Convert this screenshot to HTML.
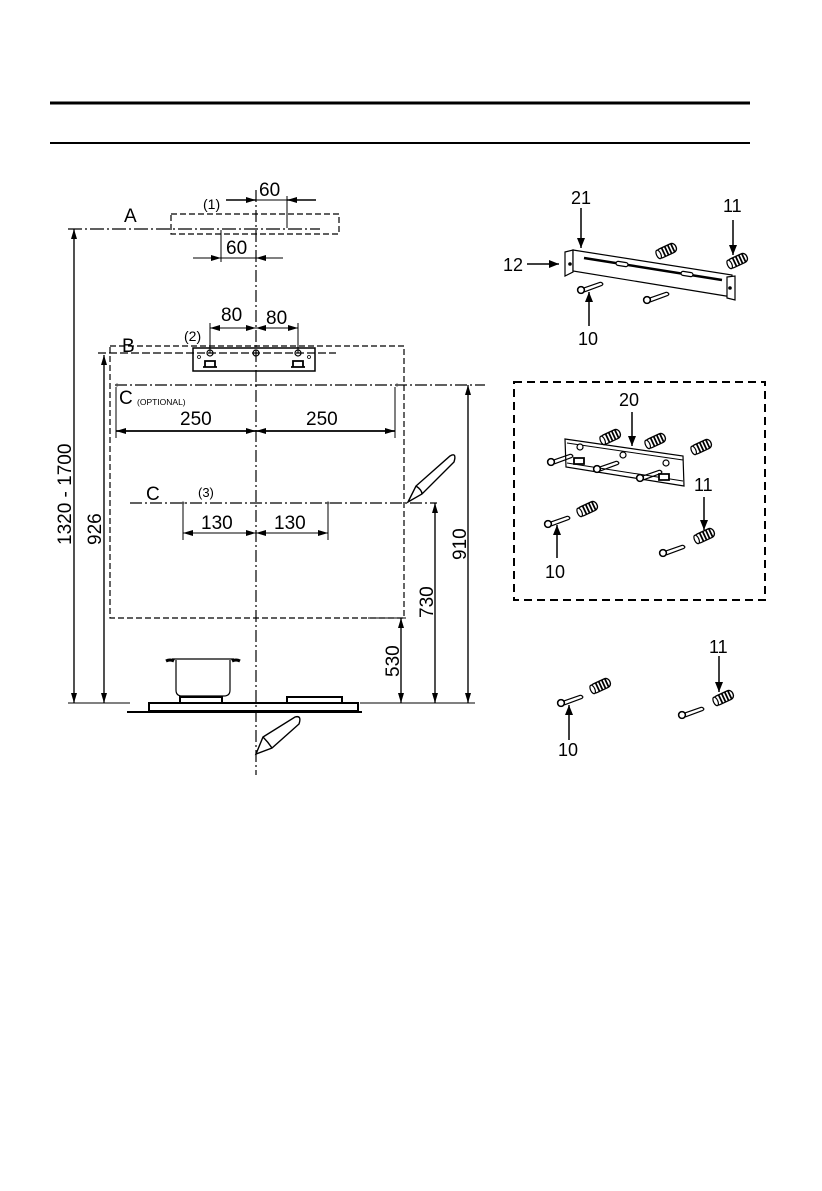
<!DOCTYPE html>
<html><head><meta charset="utf-8"><style>
html,body{margin:0;padding:0;background:#fff;}
svg{display:block;}
text{font-family:"Liberation Sans",Arial,sans-serif;fill:#000;}
</style></head><body>
<svg width="822" height="1191" viewBox="0 0 822 1191" xmlns="http://www.w3.org/2000/svg">
<defs>
<marker id="ar" viewBox="0 0 10 6" refX="10" refY="3" markerWidth="10" markerHeight="6" markerUnits="userSpaceOnUse" orient="auto"><path d="M0,0L10,3L0,6z" fill="#000"/></marker>
<marker id="ab" viewBox="0 0 10 8" refX="10" refY="4" markerWidth="10" markerHeight="8" markerUnits="userSpaceOnUse" orient="auto"><path d="M0,0L10,4L0,8z" fill="#000"/></marker>
<g id="screw"><g transform="scale(1.3)"><circle cx="0" cy="0" r="2.6" fill="#fff" stroke="#000" stroke-width="1.2"/><path d="M2,-1.5L15,-6M2.5,1.5L16,-3.5M15,-6Q18,-5 16,-3.5" fill="none" stroke="#000" stroke-width="0.9"/></g></g>
<g id="anchor"><g transform="rotate(-25) scale(1.35)"><rect x="-7" y="-3.5" width="15" height="7" rx="3" fill="#fff" stroke="#000" stroke-width="1"/><ellipse cx="-6" cy="0" rx="1.6" ry="3.4" fill="#fff" stroke="#000" stroke-width="0.9"/><path d="M-2,-3.5v7M0.5,-3.5v7M3,-3.5v7M5.5,-3.5v7" stroke="#000" stroke-width="1.3"/></g></g>
</defs>

<line x1="50" y1="103" x2="750" y2="103" stroke="#000" stroke-width="3"/>
<line x1="50" y1="143" x2="750" y2="143" stroke="#000" stroke-width="2"/>

<g stroke="#000" fill="none">
<line x1="256" y1="190" x2="256" y2="775" stroke-width="1.2" stroke-dasharray="12,3,2,3"/>
<rect x="171" y="214" width="168" height="20" stroke-width="1.2" stroke-dasharray="6,3"/>
<line x1="68" y1="229" x2="320" y2="229" stroke-width="1.2" stroke-dasharray="14,3,2,3"/>
<line x1="287" y1="196" x2="287" y2="228" stroke-width="1"/>
<line x1="221" y1="230" x2="221" y2="262" stroke-width="1"/>
<line x1="226" y1="200" x2="256" y2="200" stroke-width="1.5" marker-end="url(#ar)"/>
<line x1="316" y1="200" x2="287" y2="200" stroke-width="1.5" marker-end="url(#ar)"/>
<line x1="256" y1="200" x2="287" y2="200" stroke-width="1"/>
<line x1="193" y1="258" x2="221" y2="258" stroke-width="1" marker-end="url(#ar)"/>
<line x1="283" y1="258" x2="256" y2="258" stroke-width="1" marker-end="url(#ar)"/>
<line x1="221" y1="258" x2="256" y2="258" stroke-width="1"/>
<rect x="110" y="346" width="294" height="272" stroke-width="1.2" stroke-dasharray="6,3"/>
<line x1="98" y1="353" x2="336" y2="353" stroke-width="1.2" stroke-dasharray="8,3"/>
<rect x="193" y="348" width="122" height="23" stroke-width="1.5"/>
<line x1="210" y1="323" x2="210" y2="353" stroke-width="1"/>
<line x1="298" y1="323" x2="298" y2="353" stroke-width="1"/>
<line x1="210" y1="328" x2="256" y2="328" stroke-width="1" marker-end="url(#ar)"/>
<line x1="256" y1="328" x2="210" y2="328" stroke-width="1" marker-end="url(#ar)"/>
<line x1="256" y1="328" x2="298" y2="328" stroke-width="1" marker-end="url(#ar)"/>
<line x1="298" y1="328" x2="256" y2="328" stroke-width="1" marker-end="url(#ar)"/>
<circle cx="210" cy="353" r="3" stroke-width="1.2"/><circle cx="256" cy="353" r="3" stroke-width="1.2"/><circle cx="298" cy="353" r="3" stroke-width="1.2"/>
<circle cx="199" cy="357" r="1.5" stroke-width="0.8"/><circle cx="309" cy="357" r="1.5" stroke-width="0.8"/>
<path d="M205,361h10v6h-10z M203,367h14" stroke-width="1.8"/>
<path d="M293,361h10v6h-10z M291,367h14" stroke-width="1.8"/>
<line x1="115" y1="385" x2="485" y2="385" stroke-width="1.2" stroke-dasharray="12,3,2,3"/>
<line x1="116" y1="387" x2="116" y2="438" stroke-width="1"/>
<line x1="395" y1="387" x2="395" y2="438" stroke-width="1"/>
<line x1="116" y1="431" x2="256" y2="431" stroke-width="1.5" marker-end="url(#ar)"/>
<line x1="256" y1="431" x2="116" y2="431" stroke-width="1.5" marker-end="url(#ar)"/>
<line x1="256" y1="431" x2="395" y2="431" stroke-width="1.5" marker-end="url(#ar)"/>
<line x1="395" y1="431" x2="256" y2="431" stroke-width="1.5" marker-end="url(#ar)"/>
<line x1="130" y1="503" x2="437" y2="503" stroke-width="1.2" stroke-dasharray="12,3,2,3"/>
<line x1="183" y1="503" x2="183" y2="540" stroke-width="1"/>
<line x1="328" y1="503" x2="328" y2="540" stroke-width="1"/>
<line x1="183" y1="533" x2="256" y2="533" stroke-width="1" marker-end="url(#ar)"/>
<line x1="256" y1="533" x2="183" y2="533" stroke-width="1" marker-end="url(#ar)"/>
<line x1="256" y1="533" x2="328" y2="533" stroke-width="1" marker-end="url(#ar)"/>
<line x1="328" y1="533" x2="256" y2="533" stroke-width="1" marker-end="url(#ar)"/>
<line x1="74" y1="703" x2="74" y2="229" stroke-width="1.2" marker-end="url(#ar)"/>
<line x1="74" y1="229" x2="74" y2="703" stroke-width="1.2" marker-end="url(#ar)"/>
<line x1="104" y1="703" x2="104" y2="355" stroke-width="1.2" marker-end="url(#ar)"/>
<line x1="104" y1="355" x2="104" y2="703" stroke-width="1.2" marker-end="url(#ar)"/>
<line x1="468" y1="703" x2="468" y2="385" stroke-width="1.2" marker-end="url(#ar)"/>
<line x1="468" y1="385" x2="468" y2="703" stroke-width="1.2" marker-end="url(#ar)"/>
<line x1="435" y1="703" x2="435" y2="503" stroke-width="1.2" marker-end="url(#ar)"/>
<line x1="435" y1="503" x2="435" y2="703" stroke-width="1.2" marker-end="url(#ar)"/>
<line x1="401" y1="703" x2="401" y2="618" stroke-width="1.2" marker-end="url(#ar)"/>
<line x1="401" y1="618" x2="401" y2="703" stroke-width="1.2" marker-end="url(#ar)"/>
<line x1="368" y1="618" x2="406" y2="618" stroke-width="1"/>
<line x1="68" y1="703" x2="130" y2="703" stroke-width="1"/>
<line x1="360" y1="703" x2="475" y2="703" stroke-width="1"/>
<rect x="149" y="703" width="209" height="8" stroke-width="2"/>
<line x1="127" y1="712" x2="362" y2="712" stroke-width="2"/>
<path d="M176,660V690Q176,696 182,696H224Q230,696 230,690V660" stroke-width="1.2"/>
<line x1="172" y1="659" x2="234" y2="659" stroke-width="1.2"/>
<path d="M166,661Q170,659 174,661M232,661Q236,659 240,661" stroke-width="3"/>
<path d="M180,702V697H222V702M287,702V697H342V702" stroke-width="2"/>
<g stroke-width="1.4">
<path d="M408,502L416,486L450,456Q457,452 454,462L422,494Z"/>
<path d="M416,486Q422,490 422,494"/>
<path d="M256,754L263,737L295,717Q302,715 299,724L272,748Z"/>
<path d="M263,737Q268,742 272,748"/>
</g>
</g>
<circle cx="117" cy="385" r="1.5" fill="#555"/><circle cx="397" cy="385" r="1.5" fill="#555"/>
<circle cx="183" cy="503" r="1.5" fill="#555"/><circle cx="328" cy="503" r="1.5" fill="#555"/>

<g font-size="19">
<text x="124" y="222">A</text>
<text x="122" y="352">B</text>
<text x="119" y="404">C</text>
<text x="146" y="500">C</text>
<text x="259" y="196">60</text>
<text x="226" y="254">60</text>
<text x="221" y="321">80</text>
<text x="266" y="324">80</text>
<text x="180" y="425">250</text>
<text x="306" y="425">250</text>
<text x="201" y="529">130</text>
<text x="274" y="529">130</text>
</g>
<text x="203" y="209" font-size="14">(1)</text>
<text x="184" y="341" font-size="14">(2)</text>
<text x="198" y="497" font-size="13">(3)</text>
<text x="137" y="405" font-size="8.5">(OPTIONAL)</text>
<g font-size="19">
<text transform="translate(71,545) rotate(-90)">1320 - 1700</text>
<text transform="translate(101,545) rotate(-90)">926</text>
<text transform="translate(466,560) rotate(-90)">910</text>
<text transform="translate(433,618) rotate(-90)">730</text>
<text transform="translate(399,677) rotate(-90)">530</text>
</g>

<g stroke="#000" fill="#fff" stroke-width="1.2">
<path d="M565,252L573,250L573,272L565,276Z"/>
<path d="M573,250L732,275L732,297L573,271Z"/>
<path d="M727,277L735,276L735,300L727,298Z"/>
<path d="M584,258L722,280" stroke-width="2.5"/>
<rect x="616" y="262" width="12" height="4" rx="2" transform="rotate(9 622 264)"/>
<rect x="681" y="272" width="12" height="4" rx="2" transform="rotate(9 687 274)"/>
</g>
<circle cx="570" cy="264" r="1.8" fill="#000"/><circle cx="730" cy="288" r="1.8" fill="#000"/>
<use href="#screw" x="581" y="290"/>
<use href="#screw" x="647" y="300"/>
<use href="#anchor" x="666" y="251"/>
<use href="#anchor" x="737" y="261"/>
<g stroke="#000" stroke-width="1.5">
<line x1="581" y1="208" x2="581" y2="248" marker-end="url(#ab)"/>
<line x1="733" y1="220" x2="733" y2="255" marker-end="url(#ab)"/>
<line x1="527" y1="264" x2="559" y2="264" marker-end="url(#ab)"/>
<line x1="589" y1="326" x2="589" y2="292" marker-end="url(#ab)"/>
</g>
<g font-size="18">
<text x="571" y="204">21</text>
<text x="723" y="212">11</text>
<text x="503" y="271">12</text>
<text x="578" y="345">10</text>
</g>

<rect x="514" y="382" width="251" height="218" fill="none" stroke="#000" stroke-width="2" stroke-dasharray="8,5"/>
<g stroke="#000" fill="#fff" stroke-width="1.2">
<path d="M565,439L683,456L684,486L566,467Z"/>
<path d="M567,443L683,460M567,463L683,481" stroke-width="1"/>
<circle cx="580" cy="447" r="3"/><circle cx="623" cy="455" r="3"/><circle cx="666" cy="463" r="3"/>
<path d="M574,458h10v6h-10z M659,474h10v6h-10z" stroke-width="1.8"/>
</g>
<use href="#screw" x="551" y="462"/>
<use href="#screw" x="597" y="469"/>
<use href="#screw" x="640" y="478"/>
<use href="#anchor" x="610" y="437"/>
<use href="#anchor" x="655" y="441"/>
<use href="#anchor" x="701" y="447"/>
<use href="#anchor" x="587" y="509"/>
<use href="#screw" x="548" y="524"/>
<use href="#anchor" x="704" y="536"/>
<use href="#screw" x="663" y="553"/>
<g stroke="#000" stroke-width="1.5">
<line x1="632" y1="412" x2="632" y2="446" marker-end="url(#ab)"/>
<line x1="704" y1="497" x2="704" y2="530" marker-end="url(#ab)"/>
<line x1="557" y1="558" x2="557" y2="525" marker-end="url(#ab)"/>
</g>
<g font-size="18">
<text x="619" y="406">20</text>
<text x="694" y="491">11</text>
<text x="545" y="578">10</text>
</g>

<use href="#anchor" x="600" y="686"/>
<use href="#screw" x="561" y="703"/>
<use href="#anchor" x="723" y="698"/>
<use href="#screw" x="682" y="715"/>
<g stroke="#000" stroke-width="1.5">
<line x1="719" y1="656" x2="719" y2="692" marker-end="url(#ab)"/>
<line x1="569" y1="740" x2="569" y2="705" marker-end="url(#ab)"/>
</g>
<g font-size="18">
<text x="709" y="653">11</text>
<text x="558" y="756">10</text>
</g>
</svg>
</body></html>
